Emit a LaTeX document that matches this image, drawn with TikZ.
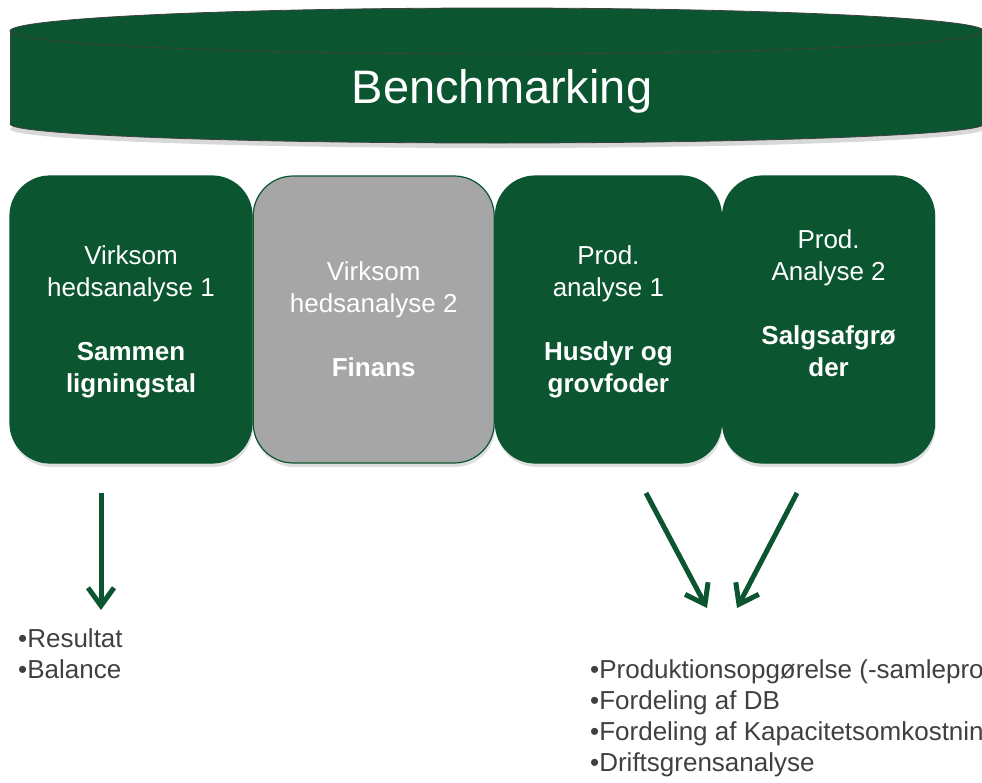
\documentclass[tikz,border=0pt]{standalone}
\usepackage{fontspec}
\setmainfont{Liberation Sans}
\usetikzlibrary{arrows.meta,positioning,shadows}

\definecolor{benchgreen}{RGB}{11,85,48}
\definecolor{boxgray}{RGB}{166,166,166}
\definecolor{rimgray}{RGB}{64,64,64}
\definecolor{listgray}{RGB}{64,64,64}

\begin{document}
\begin{tikzpicture}[x=1pt,y=-1pt,
    main node/.style={rectangle,rounded corners=40pt,fill=benchgreen,draw=benchgreen,line width=1.2pt,
      text=white,align=center,inner sep=0pt,minimum height=287pt,text depth=0pt,
      font=\fontsize{26}{32}\selectfont,
      drop shadow={opacity=0.25,shadow xshift=1pt,shadow yshift=-4pt}},
    gray node/.style={main node,fill=boxgray},
    list node/.style={anchor=base west,inner sep=0pt,text=listgray,font=\fontsize{26}{31}\selectfont},
    green arrow/.style={draw=benchgreen,line width=5pt,-{Straight Barb[length=18pt,width=26pt]}}]

    \clip (0,0) rectangle (982,782);
    \fill[white] (0,0) rectangle (982,782);

    % banner
    \fill[benchgreen,draw=rimgray,line width=0.8pt,drop shadow={opacity=0.3,shadow xshift=0pt,shadow yshift=-5pt}]
      (497,124) ellipse [x radius=487,y radius=19];
    \fill[benchgreen] (10,31) rectangle (984,124);
    \draw[rimgray,line width=0.8pt] (10,31) -- (10,124) (984,31) -- (984,124);
    \filldraw[fill=benchgreen,draw=rimgray,line width=0.8pt] (497,31) ellipse [x radius=487,y radius=23];
    \node[text=white,font=\fontsize{47}{56}\selectfont,anchor=base,inner sep=0pt] (bench) at (502,103) {Benchmarking};

    % boxes
    \node[main node,minimum width=242pt] (1) at (131,319.5) {Virksom\\hedsanalyse 1\\[32pt]\textbf{Sammen}\\\textbf{ligningstal}};
    \node[gray node,minimum width=241pt,right=0pt of 1] (2) {Virksom\\hedsanalyse 2\\[32pt]\textbf{Finans}};
    \node[main node,minimum width=226pt,right=0pt of 2] (3) {Prod.\\analyse 1\\[32pt]\textbf{Husdyr og}\\\textbf{grovfoder}};
    \node[main node,minimum width=212pt,right=0pt of 3] (4) {Prod.\\Analyse 2\\[32pt]\textbf{Salgsafgrø}\\\textbf{der}\\\mbox{}};

    % arrows
    \coordinate (a1) at (101,493);
    \coordinate (b1) at (101,610);
    \coordinate (a3) at (646,493);
    \coordinate (b3) at (707,608);
    \coordinate (a4) at (797,493);
    \coordinate (b4) at (737,608);
    \draw[green arrow] (a1) -- (b1);
    \draw[green arrow] (a3) -- (b3);
    \draw[green arrow] (a4) -- (b4);

    % lists
    \foreach \txt [count=\i] in {•Resultat,•Balance}
      \node[list node] (l\i) at (18,{647+31*(\i-1)}) {\txt};
    \foreach \txt [count=\i] in {•Produktionsopgørelse (-samleproduktion),•Fordeling af DB,•Fordeling af Kapacitetsomkostninger,•Driftsgrensanalyse}
      \node[list node] (r\i) at (590,{678+31.3*(\i-1)}) {\txt};
\end{tikzpicture}
\end{document}
